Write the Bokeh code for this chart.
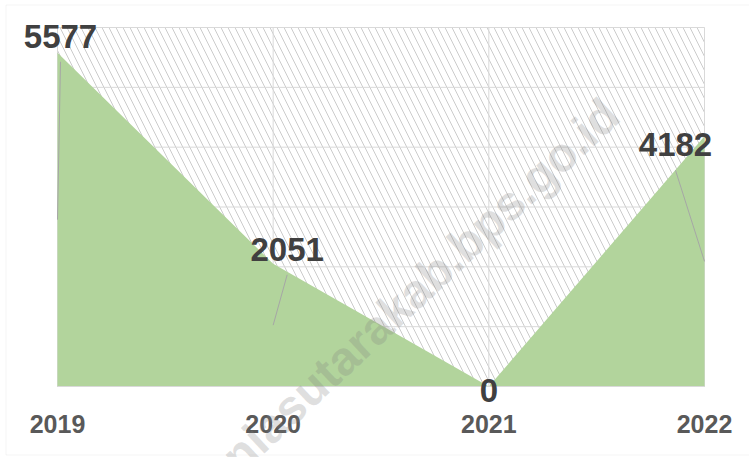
from bokeh.plotting import figure
from bokeh.models import Range1d, BoxAnnotation, Label, LabelSet, ColumnDataSource
from bokeh.core.properties import value
from bokeh.embed import file_html
from bokeh.resources import INLINE

# ---- data ----
years = ["2019", "2020", "2021", "2022"]
counts = [5577, 2051, 0, 4182]
y_ticks = [0, 1000, 2000, 3000, 4000, 5000, 6000]

# ---- label styling (pixel offsets relative to each point, screen-down positive) ----
label_dx = [3, 14, 0, -29]
label_dy = [-5, -3, 15, 20]
leader_gap = 14          # px below label baseline where the leader starts
tick_label_dy = 46       # px below the axis for tick-label baselines

# ---- layout (pixels) ----
W, H = 749, 457
PX0, PX1 = 57, 704       # plot area left/right
PY0, PY1 = 27, 386       # plot area top/bottom
YMAX = 6000
NX = len(years) - 1

sx = (PX1 - PX0) / NX          # px per x unit
sy = (PY1 - PY0) / YMAX        # px per y unit


def px2x(px):
    return (px - PX0) / sx


def py2y(py):
    return (PY1 - py) / sy


xs = list(range(len(years)))

p = figure(width=W, height=H, output_backend="svg", toolbar_location=None,
           x_range=Range1d(px2x(0), px2x(W)), y_range=Range1d(py2y(H), py2y(0)),
           min_border=0)
p.axis.visible = False
p.grid.visible = False
p.outline_line_color = None
p.background_fill_color = "white"
p.border_fill_color = "white"

# outer chart border
p.add_layout(BoxAnnotation(left=px2x(5.5), right=px2x(W + 20), top=py2y(4.5), bottom=py2y(454.5),
                           fill_alpha=0, line_color="#d9d9d9", line_width=1, level="image"))

# hatched plot area
p.add_layout(BoxAnnotation(left=0, right=NX, bottom=0, top=YMAX,
                           fill_alpha=0, line_color=None,
                           hatch_pattern="\\", hatch_color="#cccccc", hatch_scale=14, hatch_weight=1,
                           level="image"))

# gridlines
p.segment(x0=[0] * len(y_ticks), x1=[NX] * len(y_ticks), y0=y_ticks, y1=y_ticks,
          line_color="#d9d9d9", line_width=1)
p.segment(x0=xs, x1=xs, y0=[0] * len(xs), y1=[YMAX] * len(xs),
          line_color="#d9d9d9", line_width=1)

# area
p.varea(x=xs, y1=[0] * len(xs), y2=counts, fill_color="#b2d49c")

# x axis line
p.segment(x0=[0], x1=[NX], y0=[0], y1=[0], line_color="#d9d9d9", line_width=1)

# x tick labels
tsrc = ColumnDataSource(dict(x=xs, y=[0] * len(xs), t=years))
p.add_layout(LabelSet(x="x", y="y", text="t", source=tsrc, y_offset=-tick_label_dy,
                      text_align="center", text_baseline="alphabetic",
                      text_font=value("Liberation Sans"), text_font_style="bold",
                      text_font_size="25px", text_color="#595959"))

# leader lines (from below each label to half the value)
lx0, ly0, lx1, ly1 = [], [], [], []
for i, v in enumerate(counts):
    if v <= 0:
        continue
    lx0.append(i + label_dx[i] / sx)
    ly0.append(v - (label_dy[i] + leader_gap) / sy)
    lx1.append(i)
    ly1.append(v / 2)
p.segment(x0=lx0, y0=ly0, x1=lx1, y1=ly1, line_color="#a6a6a6", line_width=1)

# data labels
src = ColumnDataSource(dict(x=xs, y=counts, t=[str(c) for c in counts],
                            dx=label_dx, dy=[-d for d in label_dy]))
p.add_layout(LabelSet(x="x", y="y", text="t", source=src, x_offset="dx", y_offset="dy",
                      text_align="center", text_baseline="alphabetic",
                      text_font=value("Liberation Sans"), text_font_style="bold",
                      text_font_size="33px", text_color="#404040"))

# watermark
p.add_layout(Label(x=420, y=H - 285, x_units="screen", y_units="screen",
                   text="niasutarakab.bps.go.id", angle=43, angle_units="deg",
                   text_align="center", text_baseline="middle",
                   text_font="Liberation Sans", text_font_style="bold", text_font_size="48px",
                   text_color="#7f7f7f", text_alpha=0.25))

open("out.html", "w").write(file_html(p, INLINE))
